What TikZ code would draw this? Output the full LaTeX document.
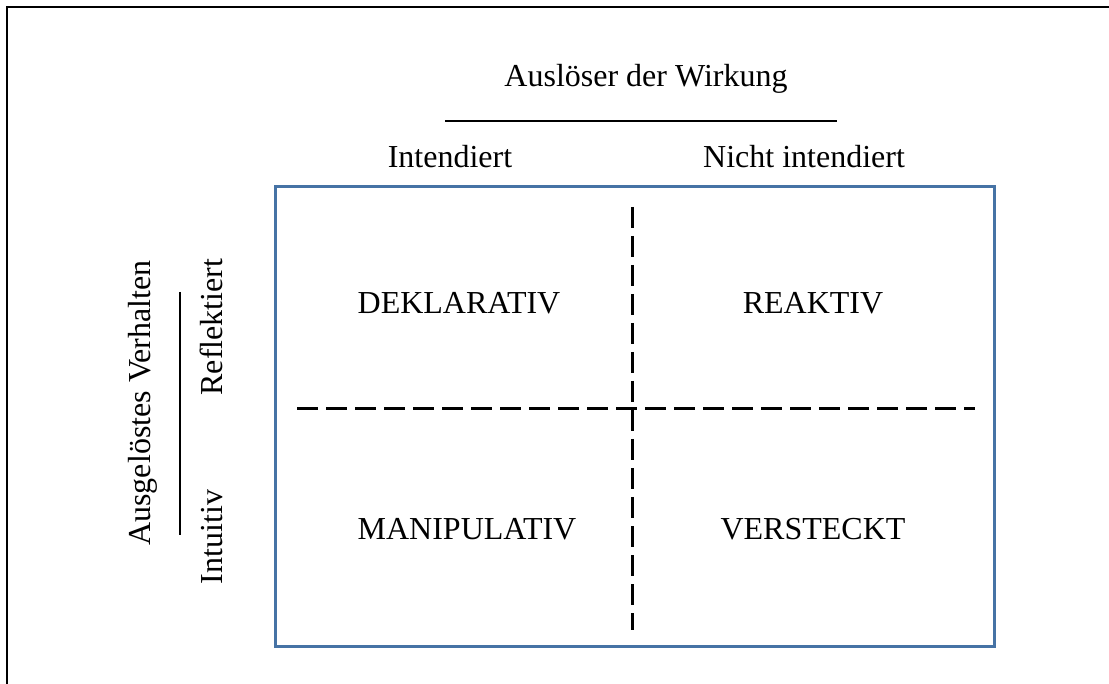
\documentclass[tikz,border=0pt]{standalone}
\usepackage{fontspec}
\setmainfont{Liberation Serif}
\definecolor{frameblue}{RGB}{70,115,165}
\begin{document}
\begin{tikzpicture}[x=1pt,y=-1pt,
  lbl/.style={font=\fontsize{32}{38}\selectfont, inner sep=0pt, anchor=base},
  vlbl/.style={lbl, rotate=90},
  divider/.style={line width=3pt, dash pattern=on 21pt off 8pt},
  axisline/.style={line width=2.5pt}]
\useasboundingbox (0,0) rectangle (1109,684);
% page frame (only top and left edges fall inside the picture)
\coordinate (fb) at (7,700);
\coordinate (fc) at (7,7);
\coordinate (fr) at (1120,7);
\draw[line width=2pt] (fb) -- (fc) -- (fr);

% four-field matrix
\node[draw=frameblue, line width=3pt, minimum width=719pt, minimum height=460pt,
      inner sep=0pt, anchor=north west] (box) at (274,185) {};
\coordinate (vt) at (632,207);
\coordinate (vb) at (632,630);
\coordinate (hl) at (297,409);
\coordinate (hr) at (975,409);
\draw[divider] (vt) -- (vb);
\draw[divider] (hl) -- (hr);

% column header
\node[lbl] (trigger) at (646,87) {Auslöser der Wirkung};
\coordinate (tl) at (445,121);
\coordinate (tr) at (837,121);
\draw[axisline] (tl) -- (tr);
\node[lbl] (intended) at (450,168) {Intendiert};
\node[lbl] (unintended) at (804,168) {Nicht intendiert};

% row header
\node[vlbl] (behaviour) at (150,403) {Ausgelöstes Verhalten};
\coordinate (lt) at (180,292);
\coordinate (lb) at (180,535);
\draw[axisline] (lt) -- (lb);
\node[vlbl] (reflected) at (222,327) {Reflektiert};
\node[vlbl] (intuitive) at (222,537) {Intuitiv};

% quadrants
\node[lbl] (decl) at (459,314) {DEKLARATIV};
\node[lbl] (react) at (813,314) {REAKTIV};
\node[lbl] (manip) at (467,539) {MANIPULATIV};
\node[lbl] (hidden) at (813,539) {VERSTECKT};
\end{tikzpicture}
\end{document}
